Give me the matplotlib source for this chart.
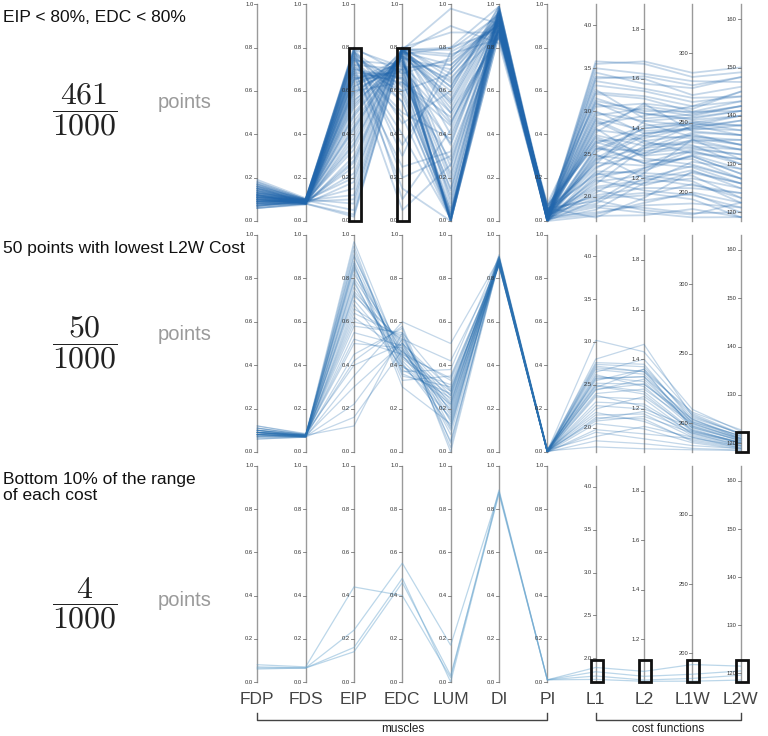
import numpy as np
import matplotlib
matplotlib.use('Agg')
import matplotlib.pyplot as plt
from matplotlib.patches import Rectangle

plt.rcParams['font.family'] = ['Liberation Sans', 'DejaVu Sans']
plt.rcParams['mathtext.fontset'] = 'cm'

# axes of the parallel coordinates
dims = ['FDP', 'FDS', 'EIP', 'EDC', 'LUM', 'DI', 'PI', 'L1', 'L2', 'L1W', 'L2W']
dim_lo = [0, 0, 0, 0, 0, 0, 0, 1.72, 1.027, 179.4, 118.2]
dim_hi = [1, 1, 1, 1, 1, 1, 1, 4.245, 1.90, 335.3, 163.1]
muscle_ticks = [0.0, 0.2, 0.4, 0.6, 0.8, 1.0]
l1_ticks = [2.0, 2.5, 3.0, 3.5, 4.0]
l2_ticks = [1.2, 1.4, 1.6, 1.8]
l1w_ticks = [200, 250, 300]
l2w_ticks = [120, 130, 140, 150, 160]

# panel 1: EIP < 80%, EDC < 80%  (461 of 1000 points, a sample drawn)
p1_fdp = [0.18, 0.17, 0.16, 0.15, 0.14, 0.13, 0.12, 0.11, 0.10, 0.09, 0.08, 0.07,
          0.06, 0.19, 0.15, 0.12, 0.10, 0.08, 0.07, 0.11, 0.13, 0.09, 0.16, 0.14,
          0.12, 0.10, 0.08, 0.06, 0.17, 0.13, 0.11, 0.09, 0.15, 0.12, 0.10, 0.07,
          0.14, 0.11, 0.09, 0.18, 0.12, 0.10, 0.08, 0.13, 0.16, 0.11, 0.09, 0.07,
          0.15, 0.12, 0.09, 0.17, 0.10, 0.13, 0.08, 0.11, 0.14, 0.07, 0.12, 0.10,
          0.16, 0.09, 0.11, 0.13, 0.08, 0.15, 0.10, 0.12, 0.06, 0.14, 0.09, 0.11]
p1_fds = [0.10, 0.09, 0.095, 0.085, 0.09, 0.10, 0.08, 0.09, 0.085, 0.095, 0.08, 0.09,
          0.075, 0.105, 0.09, 0.085, 0.095, 0.08, 0.09, 0.10, 0.085, 0.09, 0.095, 0.08,
          0.09, 0.085, 0.10, 0.08, 0.095, 0.09, 0.085, 0.09, 0.10, 0.08, 0.09, 0.095,
          0.085, 0.09, 0.08, 0.10, 0.09, 0.085, 0.095, 0.09, 0.08, 0.09, 0.085, 0.09,
          0.09, 0.085, 0.095, 0.10, 0.08, 0.09, 0.085, 0.09, 0.095, 0.08, 0.09, 0.085,
          0.10, 0.09, 0.085, 0.095, 0.08, 0.09, 0.085, 0.09, 0.08, 0.095, 0.09, 0.085]
p1_eip = [0.78, 0.72, 0.65, 0.58, 0.80, 0.70, 0.62, 0.55, 0.76, 0.48, 0.40, 0.68,
          0.30, 0.74, 0.60, 0.52, 0.79, 0.66, 0.22, 0.71, 0.44, 0.15, 0.77, 0.63,
          0.57, 0.35, 0.08, 0.03, 0.75, 0.69, 0.50, 0.25, 0.73, 0.61, 0.42, 0.12,
          0.67, 0.54, 0.18, 0.79, 0.64, 0.38, 0.05, 0.70, 0.76, 0.59, 0.28, 0.46,
          0.74, 0.66, 0.20, 0.78, 0.56, 0.33, 0.72, 0.10, 0.62, 0.49, 0.77, 0.69,
          0.80, 0.36, 0.60, 0.71, 0.02, 0.65, 0.53, 0.75, 0.27, 0.68, 0.43, 0.79]
p1_edc = [0.62, 0.70, 0.75, 0.78, 0.45, 0.66, 0.73, 0.79, 0.58, 0.77, 0.80, 0.68,
          0.79, 0.55, 0.72, 0.76, 0.30, 0.69, 0.80, 0.60, 0.78, 0.79, 0.20, 0.74,
          0.76, 0.80, 0.79, 0.78, 0.40, 0.64, 0.77, 0.80, 0.50, 0.71, 0.79, 0.80,
          0.67, 0.75, 0.80, 0.10, 0.70, 0.79, 0.78, 0.63, 0.35, 0.74, 0.80, 0.76,
          0.72, 0.66, 0.78, 0.55, 0.70, 0.79, 0.48, 0.80, 0.74, 0.76, 0.60, 0.25,
          0.68, 0.78, 0.64, 0.15, 0.79, 0.73, 0.77, 0.65, 0.80, 0.05, 0.76, 0.71]
p1_lum = [0.02, 0.45, 0.70, 0.10, 0.60, 0.00, 0.35, 0.80, 0.05, 0.55, 0.25, 0.75,
          0.98, 0.01, 0.50, 0.65, 0.78, 0.15, 0.40, 0.03, 0.90, 0.62, 0.30, 0.00,
          0.58, 0.87, 0.20, 0.72, 0.01, 0.48, 0.08, 0.66, 0.38, 0.02, 0.77, 0.52,
          0.12, 0.00, 0.68, 0.42, 0.04, 0.79, 0.60, 0.28, 0.70, 0.18, 0.56, 0.01,
          0.00, 0.36, 0.64, 0.02, 0.74, 0.46, 0.01, 0.54, 0.22, 0.00, 0.68, 0.32,
          0.06, 0.76, 0.44, 0.00, 0.62, 0.14, 0.80, 0.03, 0.50, 0.26, 0.00, 0.72]
p1_di = [0.92, 0.88, 0.95, 0.90, 0.97, 0.86, 0.93, 0.99, 0.89, 0.94, 0.87, 0.96,
         0.91, 0.98, 0.85, 0.93, 0.90, 0.96, 0.88, 0.94, 0.82, 0.97, 0.89, 0.92,
         0.95, 0.87, 0.99, 0.91, 0.94, 0.86, 0.98, 0.90, 0.93, 0.96, 0.84, 0.92,
         0.97, 0.89, 0.94, 0.91, 0.88, 0.95, 0.99, 0.86, 0.93, 0.90, 0.96, 0.92,
         0.90, 0.94, 0.87, 0.96, 0.91, 0.85, 0.98, 0.93, 0.89, 0.95, 0.92, 0.88,
         0.97, 0.90, 0.94, 0.86, 0.99, 0.92, 0.88, 0.95, 0.91, 0.97, 0.89, 0.93]
p1_pi = [0.01, 0.03, 0.00, 0.05, 0.02, 0.07, 0.01, 0.04, 0.00, 0.02, 0.06, 0.01,
         0.03, 0.00, 0.08, 0.02, 0.01, 0.04, 0.00, 0.05, 0.02, 0.01, 0.03, 0.06,
         0.00, 0.02, 0.04, 0.01, 0.07, 0.03, 0.00, 0.02, 0.05, 0.01, 0.03, 0.00,
         0.02, 0.06, 0.01, 0.03, 0.00, 0.04, 0.02, 0.01, 0.05, 0.00, 0.03, 0.02,
         0.01, 0.04, 0.00, 0.02, 0.05, 0.01, 0.03, 0.00, 0.06, 0.02, 0.01, 0.04,
         0.00, 0.03, 0.02, 0.07, 0.01, 0.00, 0.04, 0.02, 0.03, 0.01, 0.05, 0.00]
p1_l1 = [3.55, 3.40, 3.20, 3.00, 2.85, 2.70, 2.55, 2.40, 2.25, 2.10, 1.95, 1.80,
         3.45, 3.30, 3.10, 2.95, 2.80, 2.65, 2.50, 2.35, 2.20, 2.05, 1.90, 1.76,
         3.50, 3.15, 2.90, 2.75, 2.60, 2.45, 2.30, 2.15, 2.00, 1.85, 3.25, 3.05,
         2.88, 2.62, 2.48, 2.33, 2.18, 2.02, 1.88, 3.35, 2.68, 2.42, 2.12, 1.82,
         3.58, 3.12, 2.92, 2.56, 2.38, 2.22, 1.98, 1.78, 3.22, 2.72, 2.52, 2.28,
         3.38, 2.98, 2.82, 2.64, 2.44, 2.08, 1.92, 3.08, 2.78, 2.58, 2.26, 1.96]
p1_l2 = [1.67, 1.60, 1.52, 1.38, 1.45, 1.30, 1.40, 1.25, 1.33, 1.18, 1.22, 1.10,
         1.58, 1.55, 1.42, 1.48, 1.28, 1.36, 1.20, 1.30, 1.15, 1.24, 1.08, 1.12,
         1.62, 1.46, 1.35, 1.50, 1.26, 1.38, 1.22, 1.32, 1.14, 1.18, 1.44, 1.50,
         1.34, 1.41, 1.27, 1.35, 1.21, 1.16, 1.06, 1.56, 1.29, 1.37, 1.19, 1.09,
         1.66, 1.47, 1.39, 1.31, 1.43, 1.24, 1.13, 1.05, 1.53, 1.33, 1.40, 1.17,
         1.61, 1.43, 1.49, 1.29, 1.32, 1.11, 1.20, 1.46, 1.37, 1.26, 1.23, 1.07]
p1_l1w = [286, 270, 258, 245, 262, 232, 250, 226, 248, 210, 238, 200,
          275, 265, 240, 255, 220, 247, 205, 242, 198, 230, 185, 215,
          280, 252, 228, 260, 218, 246, 212, 236, 195, 222, 256, 244,
          234, 251, 224, 241, 208, 203, 182, 268, 238, 250, 216, 192,
          283, 258, 246, 233, 254, 226, 206, 188, 262, 237, 249, 214,
          277, 248, 257, 229, 243, 199, 219, 253, 239, 231, 227, 184]
p1_l2w = [150, 146, 141, 138, 143, 132, 140, 128, 136, 125, 133, 122,
          148, 144, 135, 142, 127, 139, 124, 134, 121, 130, 120, 126,
          147, 140, 131, 145, 126, 137, 123, 133, 119, 129, 142, 136,
          130, 138, 127, 134, 122, 124, 119, 144, 131, 137, 125, 121,
          149, 143, 139, 133, 141, 128, 123, 119, 145, 135, 138, 126,
          148, 140, 142, 131, 136, 120, 127, 141, 134, 132, 129, 122]

# panel 2: 50 points with lowest L2W cost (a sample drawn)
p2_fdp = [0.09, 0.08, 0.10, 0.07, 0.11, 0.09, 0.08, 0.12, 0.06, 0.09, 0.10, 0.08,
          0.07, 0.09, 0.11, 0.08, 0.10, 0.09, 0.07, 0.08, 0.10, 0.09, 0.12, 0.08,
          0.09, 0.10, 0.08, 0.07, 0.09, 0.11, 0.08, 0.10, 0.09, 0.06, 0.08, 0.09]
p2_fds = [0.075, 0.07, 0.08, 0.072, 0.078, 0.075, 0.07, 0.082, 0.068, 0.076, 0.074, 0.072,
          0.07, 0.078, 0.08, 0.074, 0.076, 0.072, 0.068, 0.075, 0.08, 0.073, 0.085, 0.07,
          0.076, 0.074, 0.07, 0.072, 0.078, 0.08, 0.075, 0.073, 0.071, 0.069, 0.077, 0.074]
p2_eip = [0.97, 0.93, 0.90, 0.86, 0.82, 0.78, 0.74, 0.70, 0.66, 0.62, 0.58, 0.55,
          0.95, 0.88, 0.84, 0.80, 0.76, 0.72, 0.68, 0.64, 0.50, 0.45, 0.40, 0.35,
          0.91, 0.85, 0.79, 0.73, 0.60, 0.52, 0.42, 0.30, 0.22, 0.16, 0.12, 0.87]
p2_edc = [0.42, 0.38, 0.45, 0.35, 0.48, 0.40, 0.50, 0.44, 0.52, 0.46, 0.55, 0.49,
          0.36, 0.41, 0.33, 0.47, 0.43, 0.51, 0.39, 0.53, 0.48, 0.57, 0.50, 0.60,
          0.40, 0.44, 0.37, 0.46, 0.54, 0.45, 0.58, 0.50, 0.52, 0.47, 0.55, 0.30]
p2_lum = [0.20, 0.25, 0.15, 0.30, 0.10, 0.22, 0.05, 0.28, 0.18, 0.33, 0.02, 0.24,
          0.27, 0.12, 0.35, 0.19, 0.26, 0.08, 0.31, 0.14, 0.22, 0.00, 0.29, 0.50,
          0.16, 0.23, 0.38, 0.21, 0.11, 0.34, 0.04, 0.26, 0.42, 0.17, 0.28, 0.13]
p2_di = [0.88, 0.87, 0.89, 0.86, 0.90, 0.88, 0.87, 0.89, 0.88, 0.86, 0.90, 0.87,
         0.89, 0.88, 0.86, 0.90, 0.87, 0.88, 0.89, 0.87, 0.91, 0.88, 0.86, 0.89,
         0.87, 0.88, 0.90, 0.86, 0.89, 0.87, 0.88, 0.90, 0.86, 0.89, 0.87, 0.88]
p2_pi = [0.005, 0.0, 0.01, 0.0, 0.005, 0.0, 0.01, 0.0, 0.005, 0.0, 0.0, 0.005,
         0.0, 0.005, 0.0, 0.01, 0.0, 0.005, 0.0, 0.0, 0.01, 0.005, 0.0, 0.0,
         0.005, 0.0, 0.0, 0.01, 0.005, 0.0, 0.0, 0.005, 0.0, 0.01, 0.0, 0.005]
p2_l1 = [3.02, 2.80, 2.76, 2.70, 2.65, 2.58, 2.52, 2.47, 2.40, 2.30, 2.22, 2.15,
         2.74, 2.68, 2.60, 2.55, 2.50, 2.44, 2.36, 2.26, 2.18, 2.10, 2.05, 1.98,
         2.72, 2.62, 2.57, 2.49, 2.45, 2.38, 2.12, 2.08, 1.95, 1.90, 1.85, 1.78]
p2_l2 = [1.43, 1.46, 1.38, 1.35, 1.40, 1.33, 1.30, 1.36, 1.28, 1.22, 1.25, 1.18,
         1.37, 1.34, 1.31, 1.36, 1.27, 1.32, 1.24, 1.20, 1.15, 1.19, 1.12, 1.10,
         1.35, 1.29, 1.33, 1.26, 1.30, 1.21, 1.16, 1.17, 1.08, 1.13, 1.06, 1.04]
p2_l1w = [210, 205, 202, 200, 207, 198, 203, 196, 200, 193, 195, 190,
          204, 201, 198, 206, 195, 199, 192, 197, 188, 194, 186, 189,
          208, 197, 203, 194, 201, 191, 187, 193, 184, 190, 182, 181]
p2_l2w = [122.5, 122, 121.5, 121, 122, 120.5, 121, 120, 120.8, 119.5, 120, 119,
          122, 121.2, 120.8, 121.8, 120.2, 121, 119.8, 120.5, 119.2, 120, 118.8, 119.5,
          122.8, 120.6, 121.4, 120.3, 121.6, 119.6, 119, 120.1, 118.9, 119.4, 118.6, 118.5]

# panel 3: bottom 10% of the range of each cost (4 points)
p3_fdp = [0.08, 0.07, 0.065, 0.06]
p3_fds = [0.07, 0.065, 0.065, 0.065]
p3_eip = [0.44, 0.24, 0.16, 0.14]
p3_edc = [0.40, 0.55, 0.48, 0.46]
p3_lum = [0.02, 0.17, 0.00, 0.03]
p3_di = [0.89, 0.88, 0.88, 0.87]
p3_pi = [0.01, 0.01, 0.01, 0.01]
p3_l1 = [1.89, 1.84, 1.79, 1.75]
p3_l2 = [1.07, 1.05, 1.035, 1.03]
p3_l1w = [192, 185, 182, 180]
p3_l2w = [121.5, 120.5, 119.6, 118.6]

panel_titles = ['EIP < 80%, EDC < 80%', '50 points with lowest L2W Cost',
                'Bottom 10% of the range\nof each cost']
panel_counts = ['461', '50', '4']
total = '1000'

panels = [
    [p1_fdp, p1_fds, p1_eip, p1_edc, p1_lum, p1_di, p1_pi, p1_l1, p1_l2, p1_l1w, p1_l2w],
    [p2_fdp, p2_fds, p2_eip, p2_edc, p2_lum, p2_di, p2_pi, p2_l1, p2_l2, p2_l1w, p2_l2w],
    [p3_fdp, p3_fds, p3_eip, p3_edc, p3_lum, p3_di, p3_pi, p3_l1, p3_l2, p3_l1w, p3_l2w],
]
# brushed ranges shown as boxes: (axis index, low, high) in axis units
brushes = [
    [(2, 0.0, 0.8), (3, 0.0, 0.8)],
    [(10, 118.2, 122.3)],
    [(7, 1.72, 1.98), (8, 1.027, 1.115), (9, 179.4, 195.0), (10, 118.2, 122.7)],
]

W, H = 768, 736
fig = plt.figure(figsize=(W / 100, H / 100), dpi=100)

x_left, x_right = 257.3, 740.7
panel_px = [(4.3, 221), (235, 452), (466, 682)]
line_style = [dict(color='#2166ac', alpha=0.26, lw=1.3),
              dict(color='#2a70b0', alpha=0.28, lw=0.9),
              dict(color='#6aa6cf', alpha=0.45, lw=0.9)]

lo = np.array(dim_lo, dtype=float)
hi = np.array(dim_hi, dtype=float)
xs = np.arange(len(dims))
px_per_unit = (x_right - x_left) / (len(dims) - 1)
tick_len = 3.0 / px_per_unit
box_half = 6.0 / px_per_unit

axes = []
for k, (top, bot) in enumerate(panel_px):
    ax = fig.add_axes([x_left / W, 1 - bot / H, (x_right - x_left) / W, (bot - top) / H])
    ax.set_xlim(0, len(dims) - 1)
    ax.set_ylim(0, 1)
    ax.axis('off')
    axes.append(ax)

    data = np.array(panels[k], dtype=float)
    norm = (data - lo[:, None]) / (hi - lo)[:, None]
    ax.plot(xs, norm, clip_on=False, solid_joinstyle='miter', **line_style[k])

    # axis lines with ticks
    for i, name in enumerate(dims):
        ax.plot([i, i], [0, 1], color='#9a9a9a', lw=1.0, zorder=1, clip_on=False)
        if i < 7:
            ticks, fmt = muscle_ticks, '{:.1f}'
        elif name == 'L1':
            ticks, fmt = l1_ticks, '{:.1f}'
        elif name == 'L2':
            ticks, fmt = l2_ticks, '{:.1f}'
        elif name == 'L1W':
            ticks, fmt = l1w_ticks, '{:d}'
        else:
            ticks, fmt = l2w_ticks, '{:d}'
        for t in ticks:
            yn = (t - lo[i]) / (hi[i] - lo[i])
            ax.plot([i - tick_len, i], [yn, yn], color='#777777', lw=0.6, clip_on=False)
            ax.text(i - tick_len - 0.02, yn, fmt.format(t), fontsize=4.2,
                    color='#333333', ha='right', va='center')

    for (i, b0, b1) in brushes[k]:
        y0 = (b0 - lo[i]) / (hi[i] - lo[i])
        y1 = (b1 - lo[i]) / (hi[i] - lo[i])
        ax.add_patch(Rectangle((i - box_half + 0.02, y0), 2 * box_half, y1 - y0,
                               fill=False, ec='#111111', lw=2.0, clip_on=False, zorder=5))

    # left side text
    fig.text(3 / W, 1 - (top + 6) / H, panel_titles[k], fontsize=12.5, color='#111111',
             ha='left', va='top', linespacing=1.12)
    frac_y = [110, 342, 603][k]
    fig.text(85 / W, 1 - frac_y / H, r'$\dfrac{%s}{%s}$' % (panel_counts[k], total),
             fontsize=23, color='#222222', ha='center', va='center')
    pts_y = [103, 334, 601][k]
    fig.text(158 / W, 1 - pts_y / H, 'points', fontsize=14.5, color='#9a9a9a',
             ha='left', va='center')

# dimension names and brackets under the last panel
ax3 = axes[-1]
tr = ax3.get_xaxis_transform()
for i, name in enumerate(dims):
    ax3.text(i, -0.079, name, transform=tr, fontsize=12.5, color='#444444',
             ha='center', va='center')

def bracket(x0, x1, label):
    yb, yt = -0.176, -0.143
    ax3.plot([x0, x0, x1, x1], [yt, yb, yb, yt], transform=tr, color='#444444',
             lw=1.0, clip_on=False)
    ax3.text((x0 + x1) / 2, -0.218, label, transform=tr, fontsize=8.5,
             color='#222222', ha='center', va='center')

bracket(0, 6, 'muscles')
bracket(7, 10, 'cost functions')

fig.savefig('out.png', dpi=100)
